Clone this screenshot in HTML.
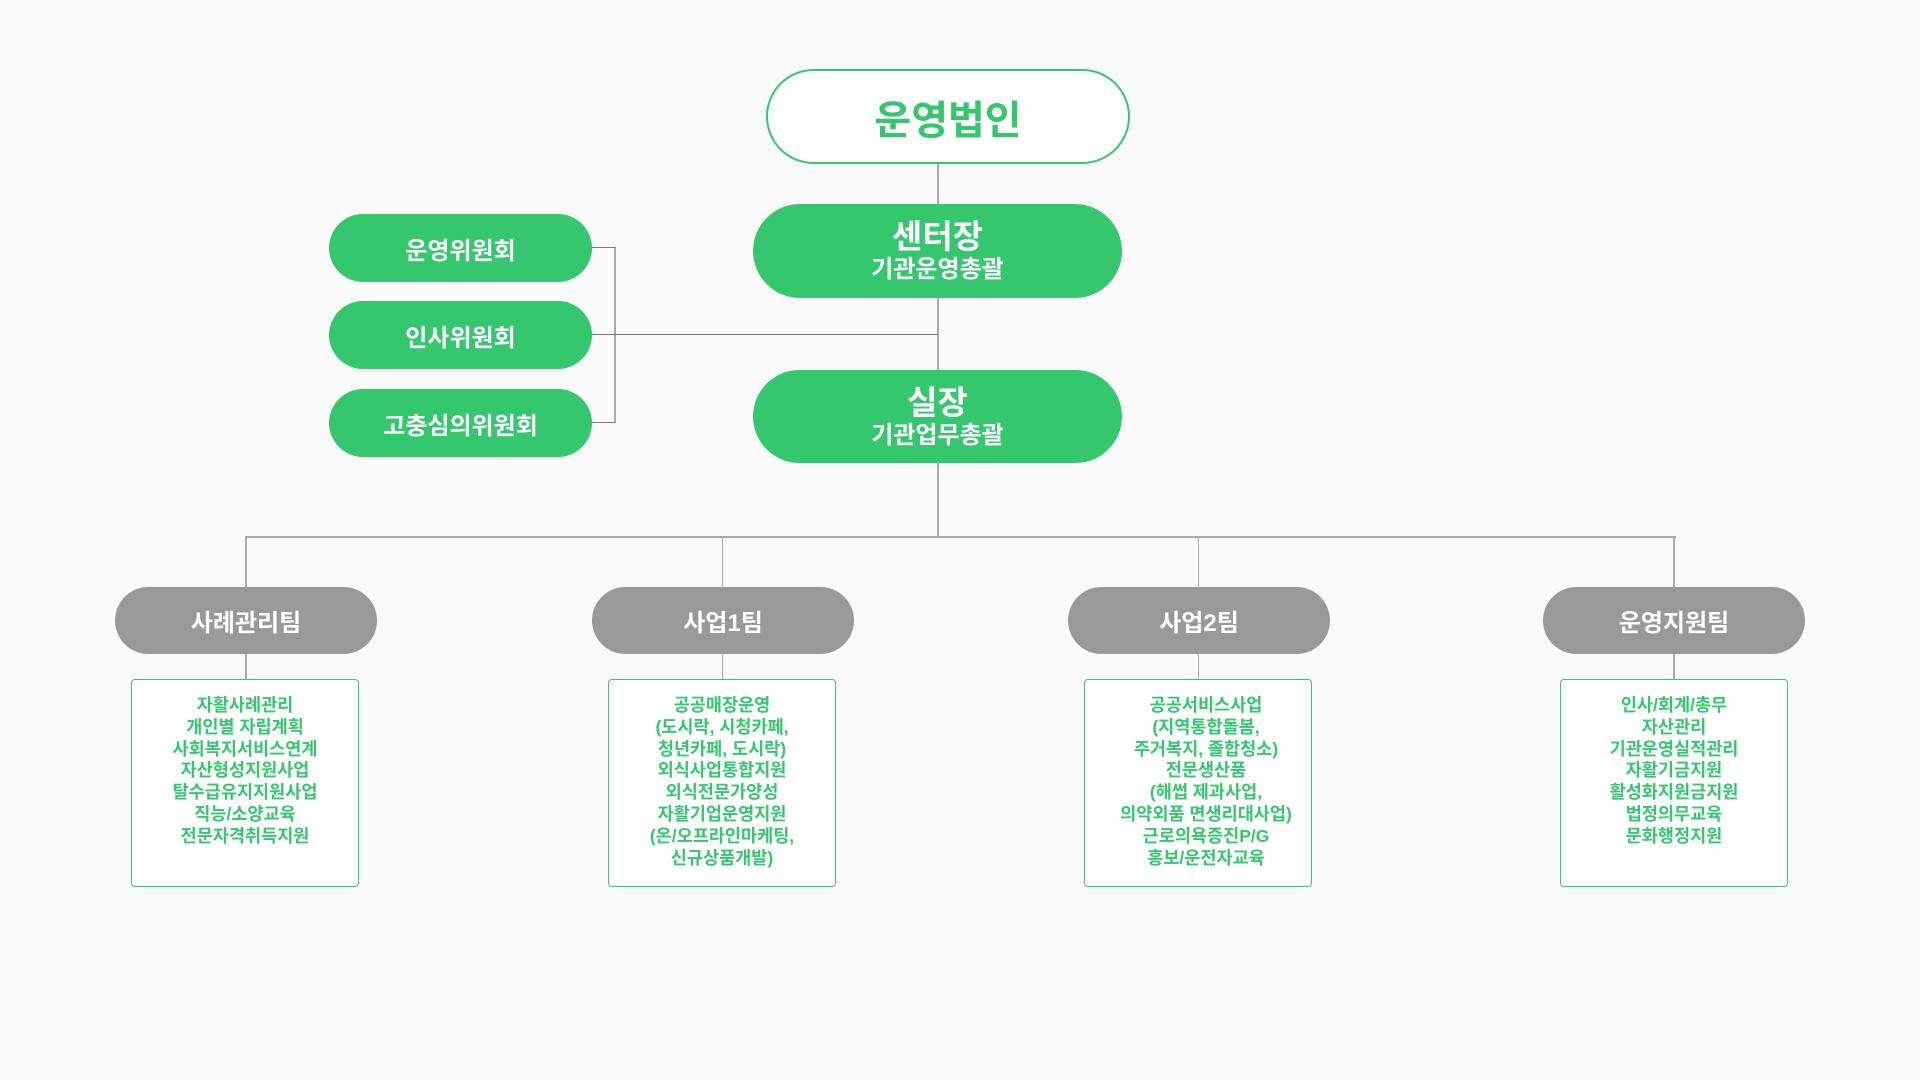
<!DOCTYPE html>
<html><head><meta charset="utf-8"><style>
*{margin:0;padding:0;box-sizing:border-box}
body{width:1920px;height:1080px;background:#fafafa;position:relative;overflow:hidden;font-family:"Liberation Sans","Noto Sans CJK KR","NanumGothic",sans-serif}
.a{position:absolute}
.pill{position:absolute;display:flex;flex-direction:column;align-items:center;justify-content:center;border-radius:999px;text-align:center}
.g{background:#34c76e;color:#fff;font-weight:bold}
.t{background:#999;color:#fff;font-weight:bold;font-size:24px;width:262px;height:67px;top:587px}
.ln{position:absolute;background:#aaa}
.box{position:absolute;top:679px;width:228px;height:208px;border:1.5px solid #34c76e;border-radius:4px;background:#fff;color:#34c76e;font-weight:bold;font-size:17.5px;line-height:21.8px;text-align:center;padding-top:15px}
</style></head><body>
<div class="ln" style="left:937px;top:164px;width:2px;height:373px"></div>
<div class="ln" style="left:245px;top:536px;width:1431px;height:2px"></div>
<div class="ln" style="left:245px;top:536px;width:2px;height:51px"></div>
<div class="ln" style="left:722px;top:536px;width:1px;height:51px"></div>
<div class="ln" style="left:1198px;top:536px;width:1px;height:51px"></div>
<div class="ln" style="left:1673px;top:536px;width:2px;height:51px"></div>
<div class="ln" style="left:245px;top:654px;width:2px;height:26px"></div>
<div class="ln" style="left:722px;top:654px;width:1px;height:26px"></div>
<div class="ln" style="left:1198px;top:654px;width:1px;height:26px"></div>
<div class="ln" style="left:1673px;top:654px;width:2px;height:26px"></div>
<div class="ln" style="left:614px;top:247px;width:2px;height:176px"></div>
<div class="a" style="left:590px;top:247px;width:25px;height:1px;background:#777"></div>
<div class="a" style="left:590px;top:422px;width:25px;height:1px;background:#777"></div>
<div class="a" style="left:590px;top:334px;width:348px;height:1px;background:#777"></div>

<div class="pill" style="left:766px;top:69px;width:364px;height:95px;background:#fff;border:2px solid #34c76e;color:#34c76e;font-weight:bold;font-size:40px">운영법인</div>
<div class="pill g" style="left:753px;top:204px;width:369px;height:94px"><div style="font-size:33px;line-height:38px">센터장</div><div style="font-size:24px;line-height:28px">기관운영총괄</div></div>
<div class="pill g" style="left:753px;top:370px;width:369px;height:93px"><div style="font-size:33px;line-height:38px">실장</div><div style="font-size:24px;line-height:28px">기관업무총괄</div></div>

<div class="pill g" style="left:329px;top:214px;width:263px;height:68px;font-size:24px">운영위원회</div>
<div class="pill g" style="left:329px;top:301px;width:263px;height:68px;font-size:24px">인사위원회</div>
<div class="pill g" style="left:329px;top:389px;width:263px;height:68px;font-size:24px">고충심의위원회</div>

<div class="pill t" style="left:115px">사례관리팀</div>
<div class="pill t" style="left:592px">사업1팀</div>
<div class="pill t" style="left:1068px">사업2팀</div>
<div class="pill t" style="left:1543px">운영지원팀</div>

<div class="box" style="left:131px">자활사례관리<br>개인별 자립계획<br>사회복지서비스연계<br>자산형성지원사업<br>탈수급유지지원사업<br>직능/소양교육<br>전문자격취득지원</div>
<div class="box" style="left:608px">공공매장운영<br>(도시락, 시청카페,<br>청년카페, 도시락)<br>외식사업통합지원<br>외식전문가양성<br>자활기업운영지원<br>(온/오프라인마케팅,<br>신규상품개발)</div>
<div class="box" style="left:1084px;padding-left:16px">공공서비스사업<br>(지역통합돌봄,<br>주거복지, 졸합청소)<br>전문생산품<br>(해썹 제과사업,<br>의약외품 면생리대사업)<br>근로의욕증진P/G<br>홍보/운전자교육</div>
<div class="box" style="left:1560px">인사/회계/총무<br>자산관리<br>기관운영실적관리<br>자활기금지원<br>활성화지원금지원<br>법정의무교육<br>문화행정지원</div>
</body></html>
